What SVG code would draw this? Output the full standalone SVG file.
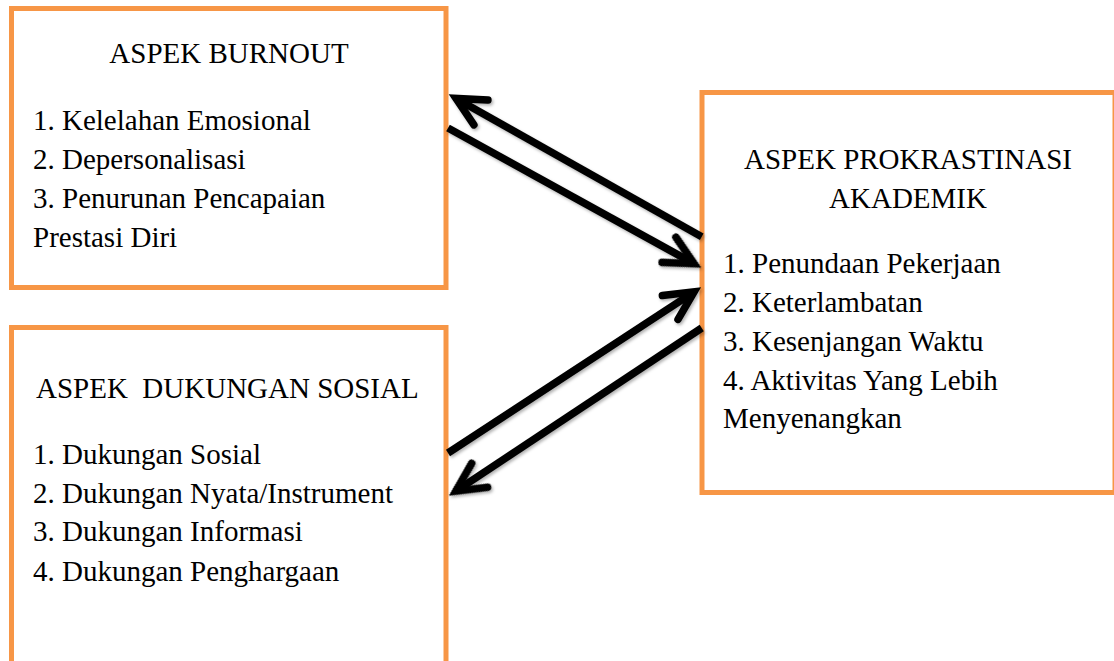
<svg xmlns="http://www.w3.org/2000/svg" xmlns:xlink="http://www.w3.org/1999/xlink" width="1114" height="661" viewBox="0 0 1114 661">
<style>
.box{fill:#ffffff;stroke:#F79646;stroke-width:5}
.t{font-family:"Liberation Serif","Times New Roman",serif;font-size:29px;fill:#000}
.c{text-anchor:middle}
.shaft{fill:none;stroke:#000;stroke-width:7.5;stroke-linecap:butt}
.head{fill:none;stroke:#000;stroke-width:7.5;stroke-linecap:round;stroke-linejoin:miter;stroke-miterlimit:10}
</style>
<defs>
<filter id="sh" x="-10%" y="-10%" width="120%" height="120%">
<feDropShadow dx="1.5" dy="2" stdDeviation="1.5" flood-color="#000" flood-opacity="0.3"/>
</filter>
<path id="ah" class="head" d="M -28.6,-14.3 L 0,0 L -28.6,14.3"/>
</defs>
<rect width="1114" height="661" fill="#ffffff"/>
<g id="burnout">
<rect class="box" x="11.5" y="8.5" width="434.5" height="279"/>
<text class="t c" x="229" y="63">ASPEK BURNOUT</text>
<text class="t" x="33" y="130">1. Kelelahan Emosional</text>
<text class="t" x="33" y="169">2. Depersonalisasi</text>
<text class="t" x="33" y="208">3. Penurunan Pencapaian</text>
<text class="t" x="33" y="247">Prestasi Diri</text>
</g>
<g id="dukungan">
<rect class="box" x="11.5" y="327.5" width="434.5" height="345"/>
<text class="t" x="36" y="398" style="white-space:pre">ASPEK  DUKUNGAN SOSIAL</text>
<text class="t" x="33" y="464">1. Dukungan Sosial</text>
<text class="t" x="33" y="503">2. Dukungan Nyata/Instrument</text>
<text class="t" x="33" y="541">3. Dukungan Informasi</text>
<text class="t" x="33" y="581">4. Dukungan Penghargaan</text>
</g>
<g id="prokrastinasi">
<rect class="box" x="702" y="92.5" width="413" height="400"/>
<text class="t c" x="908" y="169">ASPEK PROKRASTINASI</text>
<text class="t c" x="908" y="208">AKADEMIK</text>
<text class="t" x="723" y="273">1. Penundaan Pekerjaan</text>
<text class="t" x="723" y="312">2. Keterlambatan</text>
<text class="t" x="723" y="351">3. Kesenjangan Waktu</text>
<text class="t" x="723" y="390">4. Aktivitas Yang Lebih</text>
<text class="t" x="723" y="428">Menyenangkan</text>
</g>
<g id="connectors" filter="url(#sh)">
<path class="shaft" d="M 701.7,236.7 L 456,98.4"/>
<use xlink:href="#ah" transform="translate(456,98.4) rotate(209.4)"/>
<path class="shaft" d="M 448,128 L 694,263.6"/>
<use xlink:href="#ah" transform="translate(694,263.6) rotate(28.9)"/>
<path class="shaft" d="M 448,453 L 694.1,291.8"/>
<use xlink:href="#ah" transform="translate(694.1,291.8) rotate(-33.2)"/>
<path class="shaft" d="M 701.7,328 L 455.8,491.1"/>
<use xlink:href="#ah" transform="translate(455.8,491.1) rotate(146.4)"/>
</g>
</svg>
